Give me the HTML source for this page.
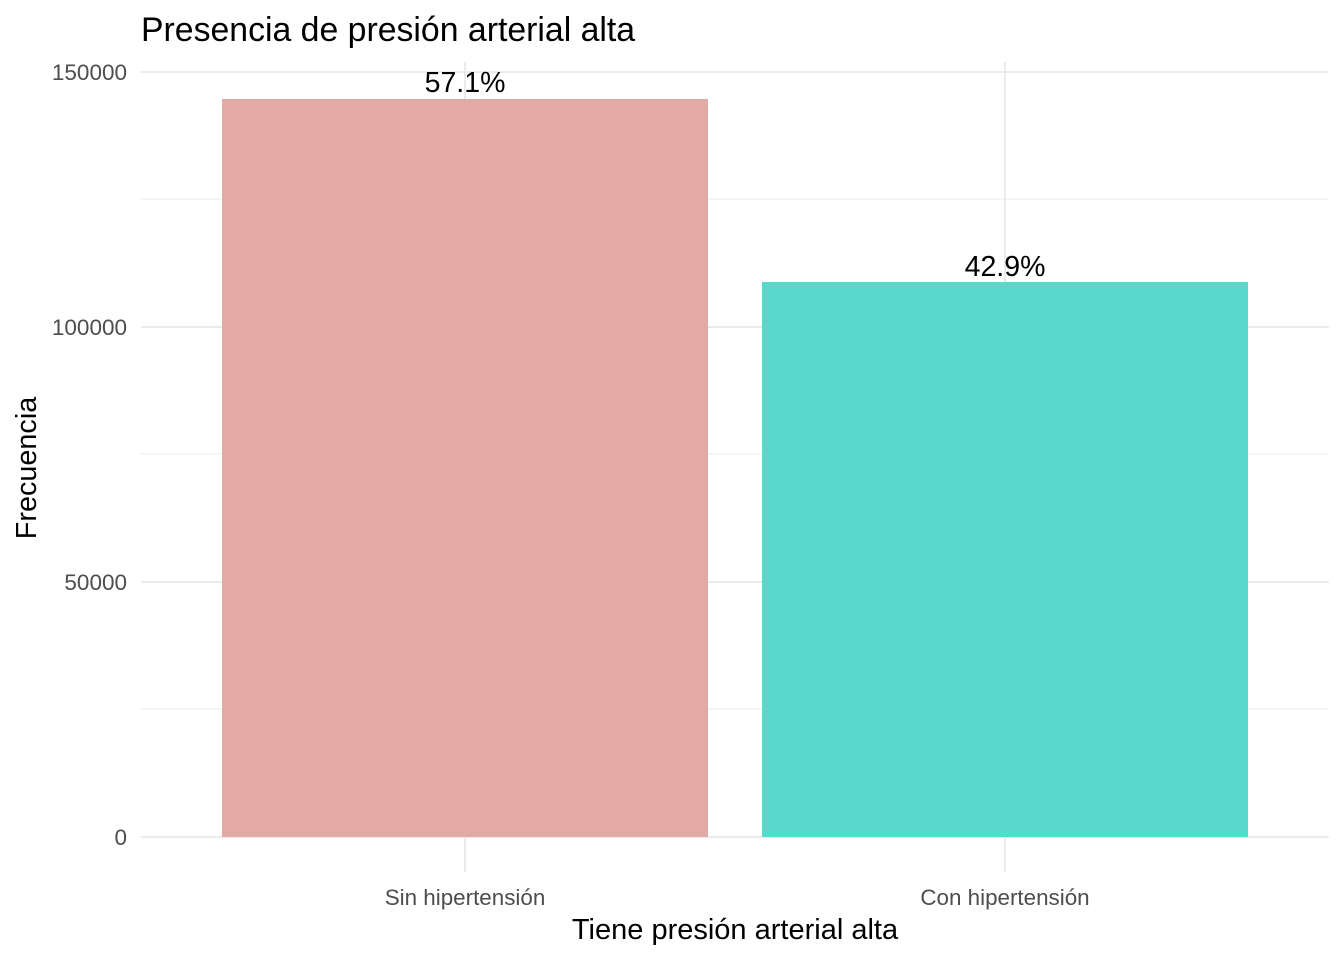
<!DOCTYPE html>
<html><head><meta charset="utf-8"><style>body{margin:0;background:#fff}</style></head>
<body>
<svg width="1344" height="960" xmlns="http://www.w3.org/2000/svg" font-family="Liberation Sans, Arial, sans-serif">
<rect width="1344" height="960" fill="#fff"/>
<g stroke="#ebebeb" stroke-width="1">
<line x1="141" x2="1329" y1="709" y2="709"/>
<line x1="141" x2="1329" y1="454" y2="454"/>
<line x1="141" x2="1329" y1="199" y2="199"/>
</g>
<g stroke="#ebebeb" stroke-width="2">
<line x1="141" x2="1329" y1="837" y2="837"/>
<line x1="141" x2="1329" y1="582" y2="582"/>
<line x1="141" x2="1329" y1="327" y2="327"/>
<line x1="141" x2="1329" y1="72" y2="72"/>
<line x1="465" x2="465" y1="62" y2="872"/>
<line x1="1005" x2="1005" y1="62" y2="872"/>
</g>
<rect x="222" y="99" width="486" height="738" fill="#E2A9A5"/>
<rect x="762" y="282" width="486" height="555" fill="#58D9CB"/>
<g font-size="28.5" fill="#000" text-anchor="middle">
<text x="465" y="92">57.1%</text>
<text x="1005" y="276">42.9%</text>
</g>
<g font-size="22.5" fill="#4d4d4d" text-anchor="end">
<text x="127" y="845">0</text>
<text x="127" y="590">50000</text>
<text x="127" y="335">100000</text>
<text x="127" y="80">150000</text>
</g>
<g font-size="22.4" fill="#4d4d4d" text-anchor="middle">
<text x="465" y="905">Sin hipertensión</text>
<text x="1005" y="905">Con hipertensión</text>
</g>
<text x="735" y="939" font-size="29" text-anchor="middle" fill="#000">Tiene presión arterial alta</text>
<text transform="translate(36,468) rotate(-90)" font-size="28.8" text-anchor="middle" fill="#000">Frecuencia</text>
<text x="141" y="41" font-size="33.8" fill="#000">Presencia de presión arterial alta</text>
</svg>
</body></html>
